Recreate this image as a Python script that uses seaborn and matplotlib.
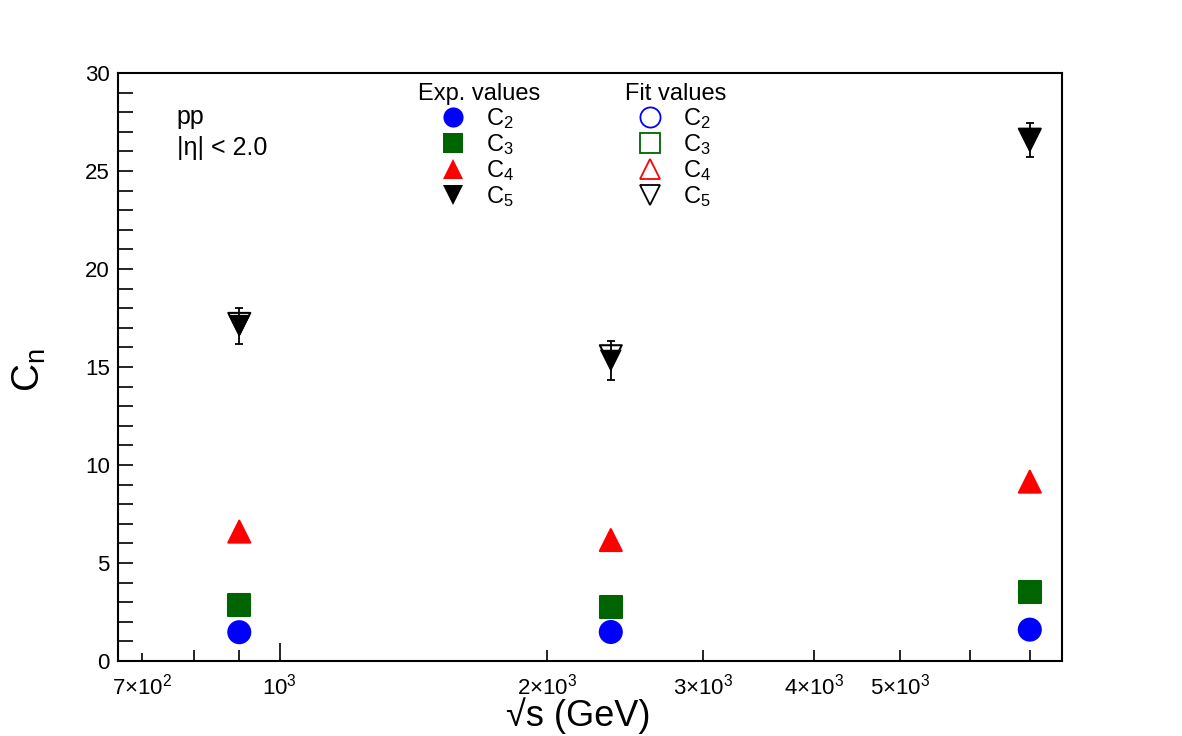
import numpy as np
import pandas as pd
import matplotlib
matplotlib.use('Agg')
import matplotlib.pyplot as plt
from matplotlib.lines import Line2D
from matplotlib.ticker import FixedLocator, NullFormatter
import seaborn as sns

# sqrt(s) energies (GeV)
energy = [900, 2360, 7000]

# experimental C_n values
exp_c2 = [1.47, 1.48, 1.60]
exp_c3 = [2.86, 2.75, 3.53]
exp_c4 = [6.60, 6.17, 9.15]
exp_c5 = [17.1, 15.32, 26.58]
err_c5 = [0.92, 1.00, 0.88]

# fit values
fit_c2 = [1.47, 1.48, 1.60]
fit_c3 = [2.86, 2.75, 3.53]
fit_c4 = [6.60, 6.17, 9.15]
fit_c5 = [17.2, 15.55, 26.6]

orders = ['C2', 'C3', 'C4', 'C5']
labels = [r'C$\mathregular{_2}$', r'C$\mathregular{_3}$', r'C$\mathregular{_4}$', r'C$\mathregular{_5}$']
colors = {'C2': '#0000ff', 'C3': '#006400', 'C4': '#ff0000', 'C5': '#000000'}
markers = {'C2': 'o', 'C3': 's', 'C4': '^', 'C5': 'v'}

exp_df = pd.DataFrame({
    'energy': energy * 4,
    'value': exp_c2 + exp_c3 + exp_c4 + exp_c5,
    'order': [o for o in orders for _ in energy],
})
fit_df = pd.DataFrame({
    'energy': energy * 4,
    'value': fit_c2 + fit_c3 + fit_c4 + fit_c5,
    'order': [o for o in orders for _ in energy],
})

sns.set_style('white')
plt.rcParams['font.family'] = ['Liberation Sans', 'DejaVu Sans']
plt.rcParams['mathtext.fontset'] = 'custom'
plt.rcParams['mathtext.rm'] = 'Liberation Sans'
plt.rcParams['mathtext.it'] = 'Liberation Sans:italic'
for k in ['text.color', 'axes.labelcolor', 'xtick.color', 'ytick.color']:
    plt.rcParams[k] = 'black'

fig = plt.figure(figsize=(11.82, 7.36), dpi=100)
ax = fig.add_axes([118/1182, 1-661/736, (1062-118)/1182, (661-73)/736])

msize = 250

# fit values: open markers
for o in orders:
    sub = fit_df[fit_df.order == o]
    sns.scatterplot(data=sub, x='energy', y='value', ax=ax, marker=markers[o],
                    s=msize, color=colors[o], facecolor='none', edgecolor=colors[o],
                    linewidth=1.5, legend=False, zorder=2)

# C5 error bars
ax.errorbar(energy, exp_c5, yerr=err_c5, fmt='none', ecolor='black',
            elinewidth=1.3, capsize=3, capthick=1.3, zorder=3)

# experimental values: filled markers
sns.scatterplot(data=exp_df, x='energy', y='value', hue='order', style='order',
                palette=colors, markers=markers, s=msize, linewidth=0,
                legend=False, ax=ax, zorder=4)

ax.set_xscale('log')
ax.set_xlim(657, 7610)
ax.set_ylim(0, 30)

# axes styling (ROOT look)
for sp in ax.spines.values():
    sp.set_color('black')
    sp.set_linewidth(1.5)
    sp.set_visible(True)

xt_major = [700, 1000, 2000, 3000, 4000, 5000]
xt_labels = [r'$\mathregular{7{\times}10^{2}}$', r'$\mathregular{10^{3}}$',
             r'$\mathregular{2{\times}10^{3}}$', r'$\mathregular{3{\times}10^{3}}$',
             r'$\mathregular{4{\times}10^{3}}$', r'$\mathregular{5{\times}10^{3}}$']
ax.xaxis.set_major_locator(FixedLocator(xt_major))
ax.set_xticklabels(xt_labels)
ax.xaxis.set_minor_locator(FixedLocator([800, 900, 6000, 7000]))
ax.xaxis.set_minor_formatter(NullFormatter())
ax.tick_params(axis='x', which='both', direction='in', bottom=True, top=False,
               length=8, width=1.2, labelsize=16, pad=9)
for t, v in zip(ax.xaxis.get_major_ticks(), xt_major):
    if v == 1000:
        t.tick1line.set_markersize(13)
    elif v == 700:
        t.tick1line.set_markersize(6)

ax.set_yticks(np.arange(0, 31, 5))
ax.yaxis.set_minor_locator(FixedLocator(np.arange(0, 31, 1)))
ax.tick_params(axis='y', which='both', direction='in', left=True, right=False,
               length=11, width=1.2, labelsize=16, pad=6)

ax.set_xlabel('√s (GeV)', fontsize=26)
ax.xaxis.set_label_coords((578-118)/944, -0.062)
ax.xaxis.label.set_va('top')
ax.set_ylabel(r'C$\mathregular{_n}$', fontsize=28)
ax.yaxis.set_label_coords(-(118-48)/944, (661-370)/588)

ax.text(0.062, 0.926, 'pp', transform=ax.transAxes, fontsize=18, va='center')
ax.text(0.062, 0.872, '|η| < 2.0', transform=ax.transAxes, fontsize=18, va='center')

# legends
ms = 14.5
exp_handles = [Line2D([], [], ls='none', marker=markers[o], color=colors[o],
                      markersize=ms, markeredgewidth=0) for o in orders]
fit_handles = [Line2D([], [], ls='none', marker=markers[o], markerfacecolor='none',
                      markeredgecolor=colors[o], markersize=ms,
                      markeredgewidth=1.3) for o in orders]
leg_kw = dict(frameon=False, loc='upper left', fontsize=17, title_fontsize=17,
              handletextpad=1.0, labelspacing=0.05, borderpad=0.0, handlelength=0.8)
leg1 = ax.legend(exp_handles, labels, title='Exp. values',
                 bbox_to_anchor=((406-118)/944, (661-71)/588), **leg_kw)
ax.add_artist(leg1)
ax.legend(fit_handles, labels, title='Fit values',
          bbox_to_anchor=((613-118)/944, (661-71)/588), **leg_kw)

fig.savefig('out.png', dpi=100)
